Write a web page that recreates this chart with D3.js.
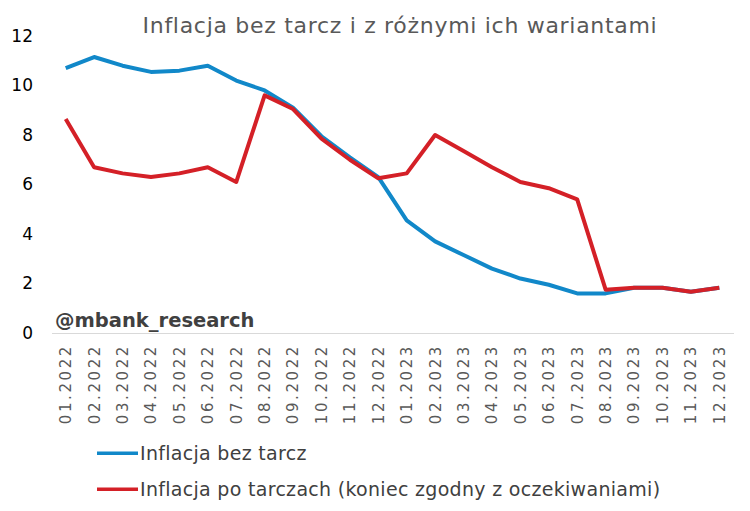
<!DOCTYPE html>
<html><head><meta charset="utf-8">
<script src="https://cdn.jsdelivr.net/npm/d3@7"></script>
<style>html,body{margin:0;padding:0;background:#fff;}svg{display:block;}</style>
</head><body>
<script>
const categories = ["01.2022","02.2022","03.2022","04.2022","05.2022","06.2022","07.2022","08.2022","09.2022","10.2022","11.2022","12.2022",
                    "01.2023","02.2023","03.2023","04.2023","05.2023","06.2023","07.2023","08.2023","09.2023","10.2023","11.2023","12.2023"];
const bezTarcz = [10.7,11.15,10.8,10.55,10.6,10.8,10.2,9.8,9.1,7.95,7.1,6.3,4.55,3.7,3.15,2.6,2.2,1.95,1.6,1.6,1.83,1.83,1.67,1.83];
const poTarczach = [8.65,6.7,6.45,6.3,6.45,6.7,6.1,9.6,9.05,7.85,7.0,6.25,6.45,8.0,7.35,6.7,6.1,5.85,5.4,1.75,1.83,1.83,1.67,1.83];
const yTicks = [0,2,4,6,8,10,12];
const seriesNames = ["Inflacja bez tarcz","Inflacja po tarczach (koniec zgodny z oczekiwaniami)"];
const seriesColors = ["#1188C9","#D42027"];
const title = "Inflacja bez tarcz i z różnymi ich wariantami";
const watermark = "@mbank_research";

const W = 750, H = 511;
const svg = d3.select("body").append("svg").attr("width", W).attr("height", H);
const root = svg.append("g");
const font = "DejaVu Sans, Verdana, sans-serif";

const x = d3.scaleBand().domain(categories).range([51.5, 733.5]).padding(0);
const xc = d => x(d) + x.bandwidth()/2;
const y = d3.scaleLinear().domain([0,12]).range([333, 36]);

// title
root.append("text").attr("x", 400).attr("y", 32.7).attr("text-anchor","middle")
  .attr("font-family", font).attr("font-size", 22).attr("letter-spacing", 0.7)
  .attr("fill","#595959").text(title);

// y axis
const yAxis = root.append("g").attr("transform","translate(33,0)")
  .call(d3.axisLeft(y).tickValues(yTicks).tickSize(0).tickPadding(0).tickFormat(d3.format("d")));
yAxis.select(".domain").remove();
yAxis.selectAll("text").attr("font-family", font).attr("font-size", 17).attr("fill","#000");

// x axis
const xAxis = root.append("g").attr("transform", `translate(0,${y(0)})`)
  .call(d3.axisBottom(x).tickSize(0).tickPadding(0));
xAxis.select(".domain").attr("stroke","#d9d9d9").attr("stroke-width",1.2);
xAxis.selectAll("text").attr("font-family", font).attr("font-size", 15).attr("fill","#595959")
  .attr("letter-spacing", 2.6)
  .attr("text-anchor","end").attr("transform","rotate(-90)")
  .attr("x", -11).attr("y", 0).attr("dy","0.36em");

// watermark
root.append("text").attr("x", 55).attr("y", 327).attr("font-family", font).attr("font-weight","bold")
  .attr("font-size", 19.5).attr("fill","#404040").text(watermark);

// lines
const line = d3.line().x((d,i) => xc(categories[i])).y(d => y(d));
[bezTarcz, poTarczach].forEach((vals, k) => {
  root.append("path").datum(vals).attr("d", line).attr("fill","none")
    .attr("stroke", seriesColors[k]).attr("stroke-width", 4).attr("stroke-linejoin","round");
});

// legend
const legY = [453.3, 489.3];
seriesNames.forEach((name, k) => {
  root.append("line").attr("x1", 97).attr("x2", 138).attr("y1", legY[k]).attr("y2", legY[k])
    .attr("stroke", seriesColors[k]).attr("stroke-width", 3.6);
  root.append("text").attr("x", 140).attr("y", legY[k]).attr("dy","0.35em")
    .attr("font-family", font).attr("font-size", 19).attr("letter-spacing", 0.3)
    .attr("fill","#404040").text(name);
});
</script>
</body></html>
